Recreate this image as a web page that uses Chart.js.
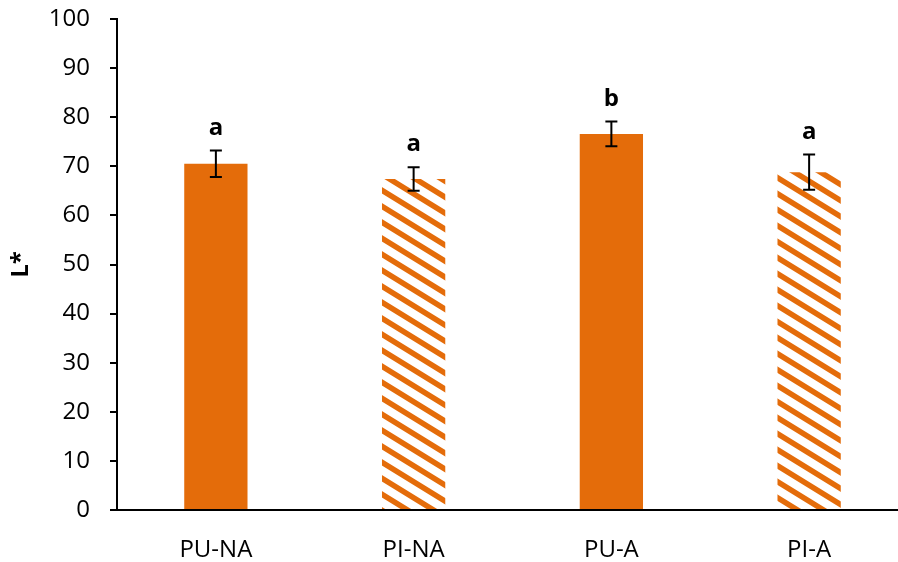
<!DOCTYPE html>
<html>
<head>
<meta charset="utf-8">
<script src="https://cdn.jsdelivr.net/npm/chart.js@4/dist/chart.umd.min.js"></script>
<style>
  html, body { margin: 0; padding: 0; background: #fff; overflow: hidden; }
  #wrap { position: relative; width: 908px; height: 562px; }
</style>
</head>
<body>
<div id="wrap"><canvas id="c" width="908" height="562"></canvas></div>
<script>
// Lightness (L*) per treatment, with standard deviation and significance letters
const categories = ['PU-NA', 'PI-NA', 'PU-A', 'PI-A'];
const meanValues = [70.5, 67.4, 76.6, 68.8];
const errorValues = [2.7, 2.4, 2.5, 3.6];
const groupLetters = ['a', 'a', 'b', 'a'];
const hatched = [false, true, false, true];
const yTicks = [0, 10, 20, 30, 40, 50, 60, 70, 80, 90, 100];

const ORANGE = '#E46C0A';
const FONT = '"Open Sans", Lato, sans-serif';

// Diagonal stripe fill for the hatched bars
function makeStripes() {
  const w = 26, h = 16, t = 6.5;
  const cv = document.createElement('canvas');
  cv.width = w; cv.height = h;
  const g = cv.getContext('2d');
  g.fillStyle = '#fff';
  g.fillRect(0, 0, w, h);
  g.fillStyle = ORANGE;
  const s = h / w;
  for (let k = -2; k <= 2; k++) {
    const o = k * h;
    g.beginPath();
    g.moveTo(-w, -s * w + o);
    g.lineTo(2 * w, 2 * s * w + o);
    g.lineTo(2 * w, 2 * s * w + o + t);
    g.lineTo(-w, -s * w + o + t);
    g.closePath();
    g.fill();
  }
  return g.createPattern(cv, 'repeat');
}
const stripes = makeStripes();

// Error bars and letters drawn from the data through the chart scales
const errorBarPlugin = {
  id: 'errorBars',
  afterDatasetsDraw(chart) {
    const ctx = chart.ctx;
    const xs = chart.scales.x, ys = chart.scales.y;
    ctx.save();
    ctx.strokeStyle = '#000';
    ctx.lineWidth = 2;
    meanValues.forEach((v, i) => {
      const x = xs.getPixelForValue(i);
      const yTop = ys.getPixelForValue(v + errorValues[i]);
      const yBot = ys.getPixelForValue(v - errorValues[i]);
      const cap = 6;
      ctx.beginPath();
      ctx.moveTo(x, yTop); ctx.lineTo(x, yBot);
      ctx.moveTo(x - cap, yTop); ctx.lineTo(x + cap, yTop);
      ctx.moveTo(x - cap, yBot); ctx.lineTo(x + cap, yBot);
      ctx.stroke();
      ctx.fillStyle = '#000';
      ctx.font = 'bold 24px ' + FONT;
      ctx.textAlign = 'center';
      ctx.textBaseline = 'alphabetic';
      ctx.fillText(groupLetters[i], x, yTop - 16);
    });
    ctx.restore();
  }
};

new Chart(document.getElementById('c'), {
  type: 'bar',
  data: {
    labels: categories,
    datasets: [{
      data: meanValues,
      backgroundColor: hatched.map(hh => hh ? stripes : ORANGE),
      borderWidth: 0,
      barPercentage: 0.32,
      categoryPercentage: 1.0
    }]
  },
  options: {
    responsive: false,
    animation: false,
    devicePixelRatio: 1,
    layout: { padding: { top: 19, right: 0, bottom: 0, left: 0 } },
    plugins: { legend: { display: false }, tooltip: { enabled: false } },
    scales: {
      x: {
        grid: { display: false },
        border: { display: true, color: '#000', width: 2 },
        ticks: { color: '#000', font: { family: FONT, size: 24 }, padding: 18 },
        afterFit(scale) { scale.height = 52; scale.paddingLeft = 0; scale.paddingRight = 0; }
      },
      y: {
        min: 0, max: 100,
        afterBuildTicks(scale) { scale.ticks = yTicks.map(v => ({ value: v })); },
        grid: { drawOnChartArea: false, drawTicks: true, tickLength: 7, color: '#000', lineWidth: 2 },
        border: { display: true, color: '#000', width: 2 },
        ticks: { color: '#000', font: { family: FONT, size: 24 }, padding: 20 },
        title: { display: true, text: 'L*', color: '#000', font: { family: FONT, size: 24, weight: 'bold' }, padding: { top: 7, bottom: 0 } },
        afterFit(scale) { scale.width = 117; scale.paddingTop = 0; scale.paddingBottom = 0; }
      }
    }
  },
  plugins: [errorBarPlugin]
});
</script>
</body>
</html>
